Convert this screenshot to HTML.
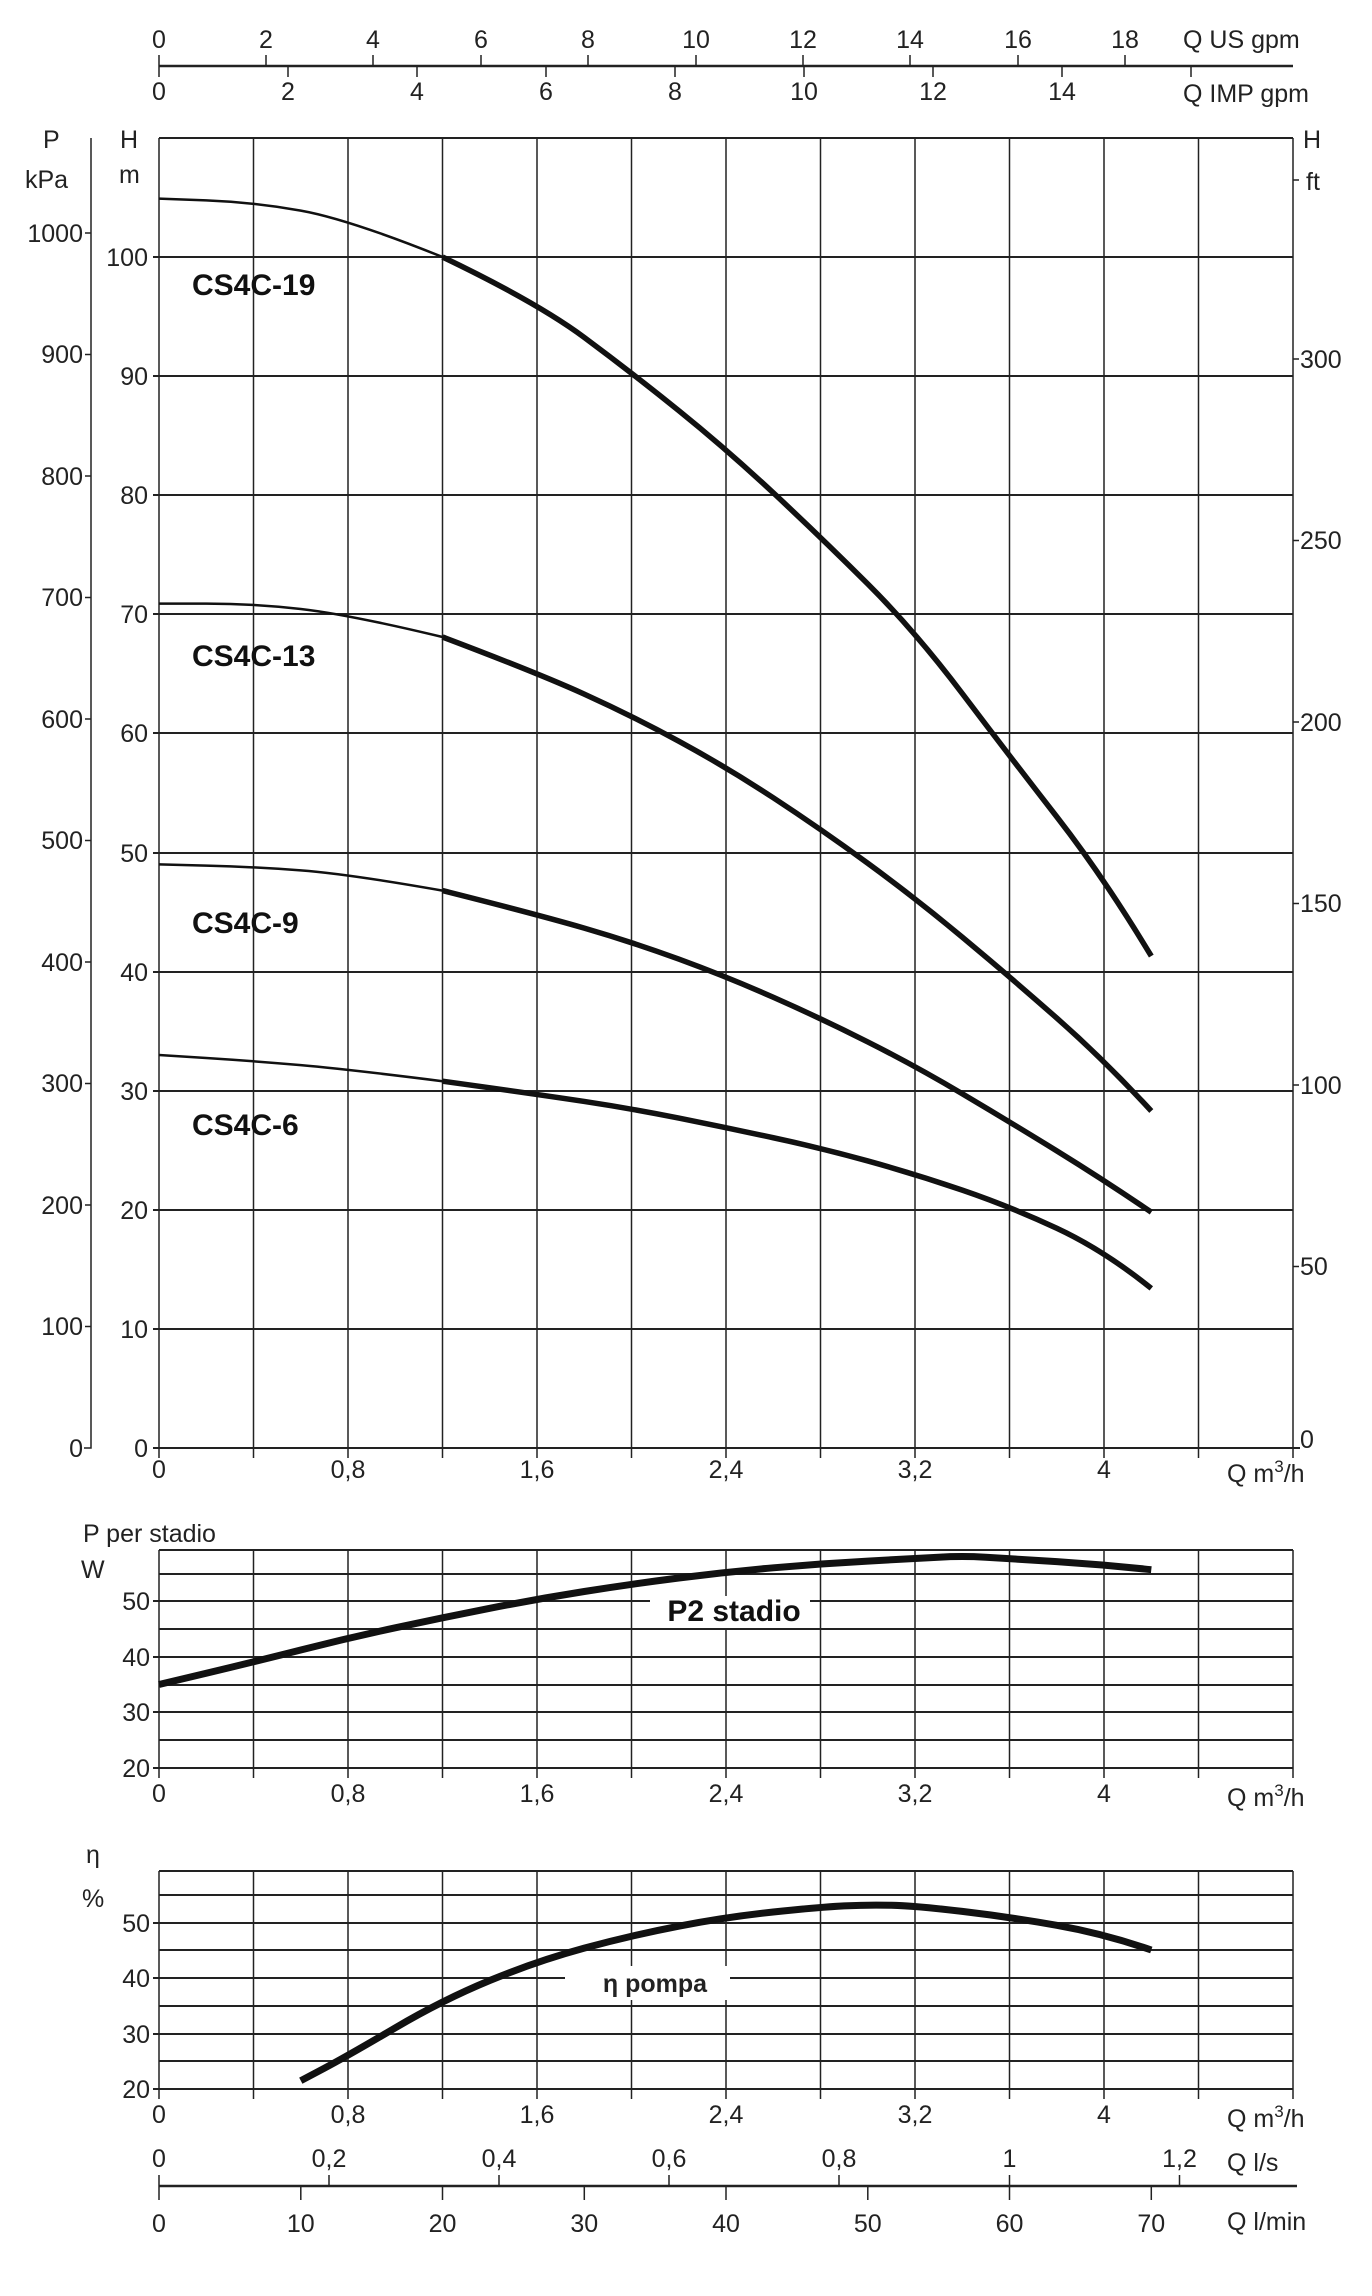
<!DOCTYPE html>
<html><head><meta charset="utf-8"><style>
html,body{margin:0;padding:0;background:#fff}
svg{display:block}
text{font-family:"Liberation Sans Narrow","Liberation Sans",sans-serif;font-size:25px;fill:#222}
.b{font-weight:bold;font-size:30px;fill:#111}
</style></head><body>
<svg width="1372" height="2296" viewBox="0 0 1372 2296" xmlns="http://www.w3.org/2000/svg">
<g stroke="#222" fill="none">
<line x1="159" y1="66" x2="1293" y2="66" stroke-width="2.5"/>
<path d="M159 55V77M266 55V66M373 55V66M481 55V66M588 55V66M696 55V66M803 55V66M910 55V66M1018 55V66M1125 55V66M288 66V77M417 66V77M546 66V77M675 66V77M804 66V77M933 66V77M1062 66V77M1191 66V77" stroke-width="1.5"/>
<path d="M159 138V1448M253.5 138V1448M348 138V1448M442.5 138V1448M537 138V1448M631.5 138V1448M726 138V1448M820.5 138V1448M915 138V1448M1009.5 138V1448M1104 138V1448M1198.5 138V1448M1293 138V1448" stroke-width="1.5"/>
<path d="M153 1448H1300M153 1329H1293M153 1210H1293M153 1091H1293M153 972H1293M153 853H1293M153 733H1293M153 614H1293M153 495H1293M153 376H1293M153 257H1293M159 138H1293" stroke-width="2"/>
<path d="M253.5 1448v10M442.5 1448v10M631.5 1448v10M820.5 1448v10M1009.5 1448v10M1198.5 1448v10M159 1448v10M348 1448v10M537 1448v10M726 1448v10M915 1448v10M1104 1448v10M1293 1448v10" stroke-width="1.5"/>
<path d="M91 138V1448H84M85 233H91M85 354.5H91M85 476H91M85 597.5H91M85 719H91M85 840.5H91M85 962H91M85 1083.5H91M85 1205H91M85 1326.5H91" stroke-width="1.5"/>
<path d="M1293 180h6M1293 359h6M1293 540.5h6M1293 722h6M1293 903.5h6M1293 1085h6M1293 1266.5h6" stroke-width="1.5"/>
<g stroke="#111" stroke-linejoin="round" stroke-linecap="butt">
<path stroke-width="2.5" d="M159,198.6 L206.25,200.4 Q253.5,202.2 300.75,210.6 Q348,219 442.5,257"/>
<path stroke-width="5.5" d="M442.5,257 Q537,302.3 584.25,337.4 Q631.5,372.5 678.75,410.6 Q726,448.7 773.25,492.8 Q820.5,536.9 867.75,583.95 Q915,631 962.25,693.5 Q1009.5,756 1056.75,816.75 Q1104,877.5 1151.3,956.1"/>
<path stroke-width="2.5" d="M159,603.6 L206.25,603.6 Q253.5,603.6 300.75,608.95 Q348,614.3 442.5,637"/>
<path stroke-width="5.5" d="M442.5,637 Q537,672.7 584.25,694.1 Q631.5,715.5 678.75,741.15 Q726,766.8 773.25,797.75 Q820.5,828.7 867.75,863.25 Q915,897.8 962.25,937.1 Q1009.5,976.4 1056.75,1018.05 Q1104,1059.7 1151.3,1111"/>
<path stroke-width="2.5" d="M159,864.4 L206.25,865.6 Q253.5,866.8 300.75,870.35 Q348,873.9 442.5,890.6"/>
<path stroke-width="5.5" d="M442.5,890.6 Q537,914.4 584.25,928.1 Q631.5,941.8 678.75,959.1 Q726,976.4 773.25,997.25 Q820.5,1018.1 867.75,1041.9 Q915,1065.7 962.25,1093.7 Q1009.5,1121.7 1056.75,1150.85 Q1104,1180 1151.3,1212.2"/>
<path stroke-width="2.5" d="M159,1055 L206.25,1058 Q253.5,1061 300.75,1065.15 Q348,1069.3 442.5,1081.2"/>
<path stroke-width="5.5" d="M442.5,1081.2 Q537,1094.3 584.25,1101.45 Q631.5,1108.6 678.75,1118.1 Q726,1127.6 773.25,1137.75 Q820.5,1147.9 867.75,1160.95 Q915,1174 962.25,1190.1 Q1009.5,1206.2 1056.75,1228.25 Q1104,1250.3 1151.3,1288.4"/>
</g>
<path d="M159 1550V1768M253.5 1550V1768M348 1550V1768M442.5 1550V1768M537 1550V1768M631.5 1550V1768M726 1550V1768M820.5 1550V1768M915 1550V1768M1009.5 1550V1768M1104 1550V1768M1198.5 1550V1768M1293 1550V1768" stroke-width="1.5"/>
<path d="M153 1768H1293M159 1740H1293M153 1712H1293M159 1685H1293M153 1657H1293M159 1629H1293M153 1601H1293M159 1574H1293M159 1550H1293" stroke-width="2"/>
<path d="M159 1768v10M253.5 1768v10M348 1768v10M442.5 1768v10M537 1768v10M631.5 1768v10M726 1768v10M820.5 1768v10M915 1768v10M1009.5 1768v10M1104 1768v10M1198.5 1768v10M1293 1768v10" stroke-width="1.5"/>
<path d="M159 1871V2089M253.5 1871V2089M348 1871V2089M442.5 1871V2089M537 1871V2089M631.5 1871V2089M726 1871V2089M820.5 1871V2089M915 1871V2089M1009.5 1871V2089M1104 1871V2089M1198.5 1871V2089M1293 1871V2089" stroke-width="1.5"/>
<path d="M153 2089H1293M159 2061H1293M153 2034H1293M159 2006H1293M153 1978H1293M159 1950H1293M153 1923H1293M159 1895H1293M159 1871H1293" stroke-width="2"/>
<path d="M159 2089v10M253.5 2089v10M348 2089v10M442.5 2089v10M537 2089v10M631.5 2089v10M726 2089v10M820.5 2089v10M915 2089v10M1009.5 2089v10M1104 2089v10M1198.5 2089v10M1293 2089v10" stroke-width="1.5"/>
<rect x="650" y="1596" width="160" height="32" fill="#fff" stroke="none"/>
<rect x="565" y="1966" width="165" height="34" fill="#fff" stroke="none"/>
<path stroke="#111" stroke-width="7" stroke-linejoin="round" d="M159,1684.5 L206.25,1673.25 Q253.5,1662 300.75,1650 Q348,1638 395.25,1627.8 Q442.5,1617.6 489.75,1608.3 Q537,1599 584.25,1591.5 Q631.5,1584 678.75,1578 Q726,1572 773.25,1567.8 Q820.5,1563.6 867.75,1561.1 Q915,1558.6 938.5,1557.2 Q962,1555.8 985.75,1557.2 Q1009.5,1558.6 1056.75,1561.65 Q1104,1564.7 1151.3,1569.7"/>
<path stroke="#111" stroke-width="7" stroke-linejoin="round" d="M300.8,2080.7 L324.4,2068.2 Q348,2055.7 395.25,2027.85 Q442.5,2000 489.75,1980.5 Q537,1961 584.25,1948.15 Q631.5,1935.3 678.75,1926.15 Q726,1917 773.25,1912 Q820.5,1907 844.15,1905.85 Q867.8,1904.7 891.4,1905.25 Q915,1905.8 962.25,1911.4 Q1009.5,1917 1056.75,1925.3 Q1104,1933.6 1151.3,1950"/>
<line x1="159" y1="2186" x2="1297" y2="2186" stroke-width="2.5"/>
<path d="M159 2175V2200M329 2175V2186M499 2175V2186M669 2175V2186M839 2175V2186M1009.5 2175V2186M1179.5 2175V2186M300.8 2186V2200M442.5 2186V2200M584.3 2186V2200M726 2186V2200M867.8 2186V2200M1009.5 2186V2200M1151.3 2186V2200" stroke-width="1.5"/>
</g>
<g text-anchor="middle">
<text x="159" y="48">0</text><text x="266" y="48">2</text><text x="373" y="48">4</text><text x="481" y="48">6</text><text x="588" y="48">8</text><text x="696" y="48">10</text><text x="803" y="48">12</text><text x="910" y="48">14</text><text x="1018" y="48">16</text><text x="1125" y="48">18</text>
<text x="159" y="100">0</text><text x="288" y="100">2</text><text x="417" y="100">4</text><text x="546" y="100">6</text><text x="675" y="100">8</text><text x="804" y="100">10</text><text x="933" y="100">12</text><text x="1062" y="100">14</text>
</g>
<text x="1183" y="48" font-size="27">Q US gpm</text>
<text x="1183" y="102" font-size="27">Q IMP gpm</text>
<text x="43" y="148" font-size="27">P</text><text x="25" y="188" font-size="27">kPa</text>
<text x="120" y="148" font-size="27">H</text><text x="119" y="183" font-size="27">m</text>
<text x="1303" y="148" font-size="27">H</text><text x="1306" y="190" font-size="27">ft</text>
<g text-anchor="end">
<text x="148" y="1457">0</text><text x="148" y="1338">10</text><text x="148" y="1219">20</text><text x="148" y="1100">30</text><text x="148" y="981">40</text><text x="148" y="862">50</text><text x="148" y="742">60</text><text x="148" y="623">70</text><text x="148" y="504">80</text><text x="148" y="385">90</text><text x="148" y="266">100</text>
<text x="83" y="1457">0</text><text x="83" y="1335">100</text><text x="83" y="1214">200</text><text x="83" y="1092">300</text><text x="83" y="971">400</text><text x="83" y="849">500</text><text x="83" y="728">600</text><text x="83" y="606">700</text><text x="83" y="485">800</text><text x="83" y="363">900</text><text x="83" y="242">1000</text>
</g>
<g>
<text x="1300" y="1448">0</text><text x="1300" y="1275">50</text><text x="1300" y="1094">100</text><text x="1300" y="912">150</text><text x="1300" y="731">200</text><text x="1300" y="549">250</text><text x="1300" y="368">300</text>
</g>
<g text-anchor="middle">
<text x="159" y="1478">0</text><text x="348" y="1478">0,8</text><text x="537" y="1478">1,6</text><text x="726" y="1478">2,4</text><text x="915" y="1478">3,2</text><text x="1104" y="1478">4</text>
<text x="159" y="1802">0</text><text x="348" y="1802">0,8</text><text x="537" y="1802">1,6</text><text x="726" y="1802">2,4</text><text x="915" y="1802">3,2</text><text x="1104" y="1802">4</text>
<text x="159" y="2123">0</text><text x="348" y="2123">0,8</text><text x="537" y="2123">1,6</text><text x="726" y="2123">2,4</text><text x="915" y="2123">3,2</text><text x="1104" y="2123">4</text>
</g>
<text x="1227" y="1482" font-size="27">Q m<tspan font-size="17" dy="-10">3</tspan><tspan dy="10">/h</tspan></text>
<text x="1227" y="1806" font-size="27">Q m<tspan font-size="17" dy="-10">3</tspan><tspan dy="10">/h</tspan></text>
<text x="1227" y="2127" font-size="27">Q m<tspan font-size="17" dy="-10">3</tspan><tspan dy="10">/h</tspan></text>
<text class="b" x="192" y="295">CS4C-19</text>
<text class="b" x="192" y="666">CS4C-13</text>
<text class="b" x="192" y="933">CS4C-9</text>
<text class="b" x="192" y="1135">CS4C-6</text>
<text x="83" y="1542" font-size="27">P  per stadio</text>
<text x="81" y="1578" font-size="27">W</text>
<g text-anchor="end">
<text x="150" y="1777">20</text><text x="150" y="1721">30</text><text x="150" y="1666">40</text><text x="150" y="1610">50</text>
<text x="150" y="2098">20</text><text x="150" y="2043">30</text><text x="150" y="1987">40</text><text x="150" y="1932">50</text>
</g>
<text class="b" x="734" y="1621" text-anchor="middle" font-size="25">P2 stadio</text>
<text x="86" y="1863" font-size="27">η</text>
<text x="82" y="1907" font-size="27">%</text>
<text x="655" y="1992" text-anchor="middle" font-size="25" font-weight="bold">η pompa</text>
<g text-anchor="middle">
<text x="159" y="2167">0</text><text x="329" y="2167">0,2</text><text x="499" y="2167">0,4</text><text x="669" y="2167">0,6</text><text x="839" y="2167">0,8</text><text x="1009.5" y="2167">1</text><text x="1179.5" y="2167">1,2</text>
<text x="159" y="2232">0</text><text x="300.8" y="2232">10</text><text x="442.5" y="2232">20</text><text x="584.3" y="2232">30</text><text x="726" y="2232">40</text><text x="867.8" y="2232">50</text><text x="1009.5" y="2232">60</text><text x="1151.3" y="2232">70</text>
</g>
<text x="1227" y="2171" font-size="27">Q l/s</text>
<text x="1227" y="2230" font-size="27">Q l/min</text>
</svg>
</body></html>
